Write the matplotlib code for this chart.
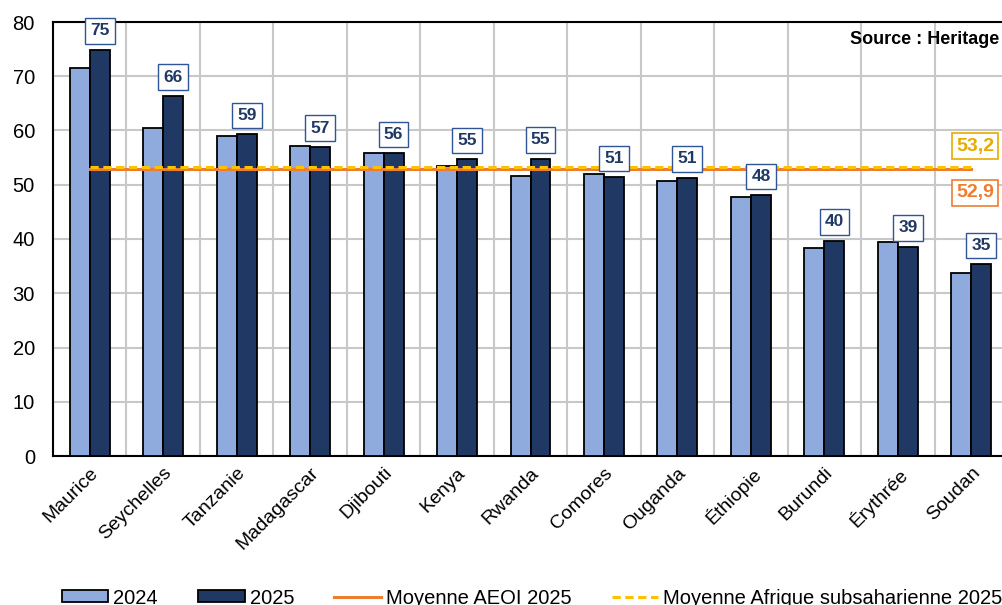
import matplotlib
matplotlib.use("Agg")
import matplotlib.pyplot as plt
import numpy as np
from matplotlib.patches import Patch
from matplotlib.lines import Line2D

plt.rcParams['font.family'] = ['Liberation Sans', 'DejaVu Sans']

pays = ["Maurice", "Seychelles", "Tanzanie", "Madagascar", "Djibouti", "Kenya",
        "Rwanda", "Comores", "Ouganda", "Éthiopie", "Burundi", "Érythrée", "Soudan"]
val_2024 = [71.5, 60.5, 59.0, 57.2, 55.8, 53.5, 51.6, 52.0, 50.6, 47.8, 38.4, 39.5, 33.8]
val_2025 = [74.9, 66.4, 59.3, 57.0, 55.8, 54.7, 54.8, 51.4, 51.3, 48.1, 39.7, 38.6, 35.3]
moy_aeoi = 52.9
moy_afss = 53.2

c_2024 = "#8faadc"
c_2025 = "#203864"
c_orange = "#ed7d31"
c_jaune = "#e6ac00"

W, H = 1003, 605
fig = plt.figure(figsize=(W / 100, H / 100), dpi=100)
# axes frame runs slightly past the right edge like in the original export
ax = fig.add_axes([53 / W, 1 - 456 / H, 955 / W, 434 / H])

x = np.arange(len(pays))
bw = 0.272
ax.bar(x - bw / 2, val_2024, bw, color=c_2024, edgecolor="black", linewidth=1.3, zorder=3)
ax.bar(x + bw / 2, val_2025, bw, color=c_2025, edgecolor="black", linewidth=1.3, zorder=3)

# averages
ax.plot([x[0], x[-1]], [moy_aeoi, moy_aeoi], color=c_orange, lw=2.2, zorder=4)
ax.plot([x[0], x[-1]], [moy_afss, moy_afss], color="#ffc000", lw=2.2,
        dashes=(2.7, 1.5), zorder=5)

# value labels on 2025 bars
for xi, v in zip(x, val_2025):
    ax.annotate(f"{v:.0f}", (xi + bw / 2, v), xytext=(0, 13.5), textcoords="offset points",
                ha="center", va="center", fontsize=12.5, fontweight="bold", color=c_2025,
                bbox=dict(boxstyle="square,pad=0.3", fc="white", ec="#2f5597", lw=1.0),
                zorder=6)

ax.text(12.05, 57.1, "53,2", ha="center", va="center", fontsize=14,
        fontweight="bold", color=c_jaune,
        bbox=dict(boxstyle="square,pad=0.22", fc="white", ec=c_jaune, lw=1.2), zorder=6)
ax.text(12.05, 48.5, "52,9", ha="center", va="center", fontsize=14,
        fontweight="bold", color=c_orange,
        bbox=dict(boxstyle="square,pad=0.22", fc="white", ec=c_orange, lw=1.2), zorder=6)

fig.text(999 / W, 1 - 40 / H, "Source : Heritage", ha="right", va="center",
         fontsize=13, fontweight="bold")

ax.set_xlim(-0.5, len(pays) - 0.5)
ax.set_ylim(0, 80)
ax.set_yticks(np.arange(0, 81, 10))
ax.set_xticks(x)
ax.set_xticklabels(pays, rotation=45, ha="right", rotation_mode="anchor", fontsize=14)
ax.tick_params(axis="y", labelsize=14.5, length=0, pad=13)
ax.tick_params(axis="x", length=0, pad=6)
ax.set_xticks(np.arange(-0.5, len(pays), 1), minor=True)
ax.grid(False)
ax.grid(axis="y", which="major", color="#c8c8c8", lw=1.5, zorder=0)
ax.grid(axis="x", which="minor", color="#c8c8c8", lw=1.5, zorder=0)
ax.tick_params(which="minor", length=0)
for s in ax.spines.values():
    s.set_linewidth(1.5)
    s.set_color("black")

handles = [
    Patch(facecolor=c_2024, edgecolor="black", lw=1.3),
    Patch(facecolor=c_2025, edgecolor="black", lw=1.3),
    Line2D([], [], color=c_orange, lw=2.2),
    Line2D([], [], color="#ffc000", lw=2.2, dashes=(2.7, 1.5)),
]
labels = ["2024", "2025", "Moyenne AEOI 2025", "Moyenne Afrique subsaharienne 2025"]
fig.legend(handles, labels, loc="center left", bbox_to_anchor=(54 / W, 7 / H),
           ncol=4, frameon=False, fontsize=14.5, handlelength=2.3, handleheight=0.55,
           handletextpad=0.25, columnspacing=2.0, borderaxespad=0)

fig.savefig("out.png", dpi=100)
